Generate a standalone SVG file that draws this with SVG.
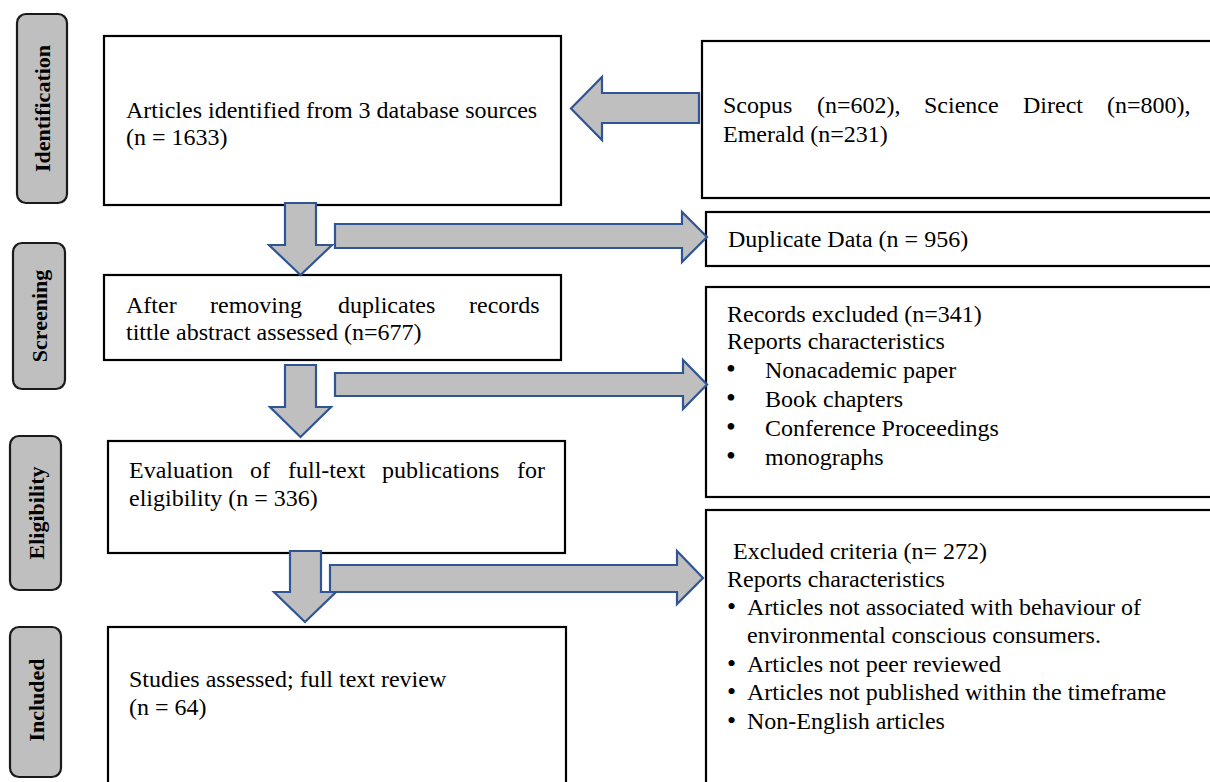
<svg xmlns="http://www.w3.org/2000/svg" width="1210" height="782" viewBox="0 0 1210 782">
<style>
.stage{fill:#bfbfbf;stroke:#1a1a1a;stroke-width:2.2}
.stxt{font-family:'Liberation Serif','Times New Roman',serif;font-weight:bold;font-size:22px;fill:#000;text-anchor:middle}
.box{fill:#fff;stroke:#000;stroke-width:2.2}
.t{font-family:'Liberation Serif','Times New Roman',serif;font-size:24px;fill:#000}
.b1{font-size:28px}
.b2{font-size:26px}
.arr{fill:#bfbfbf;stroke:#2f5597;stroke-width:2.2;stroke-linejoin:miter}
</style>
<rect width="1210" height="782" fill="#fff"/>

<g id="stage-identification">
<rect class="stage" x="17" y="14" width="50" height="189" rx="9"/>
<text class="stxt" transform="translate(49.5,108.5) rotate(-90)">Identification</text>
</g>
<g id="stage-screening">
<rect class="stage" x="13" y="243" width="52" height="146" rx="9"/>
<text class="stxt" transform="translate(46.5,316) rotate(-90)">Screening</text>
</g>
<g id="stage-eligibility">
<rect class="stage" x="10" y="436" width="51" height="154" rx="9"/>
<text class="stxt" transform="translate(43.5,513) rotate(-90)">Eligibility</text>
</g>
<g id="stage-included">
<rect class="stage" x="10" y="627" width="51" height="150" rx="9"/>
<text class="stxt" transform="translate(43.5,700) rotate(-90)">Included</text>
</g>

<g id="box-identified">
<rect class="box" x="104" y="36" width="457" height="169"/>
<text class="t" x="126" y="118">Articles identified from 3 database sources</text>
<text class="t" x="126" y="145">(n = 1633)</text>
</g>
<g id="box-sources">
<rect class="box" x="702" y="41" width="520" height="157"/>
<text class="t" y="113"><tspan x="723">Scopus</tspan><tspan x="817">(n=602),</tspan><tspan x="924">Science</tspan><tspan x="1023">Direct</tspan><tspan x="1107">(n=800),</tspan></text>
<text class="t" x="723" y="142">Emerald (n=231)</text>
</g>
<g id="box-duplicate">
<rect class="box" x="706" y="212" width="516" height="54"/>
<text class="t" x="728" y="247">Duplicate Data (n = 956)</text>
</g>
<g id="box-screened">
<rect class="box" x="104" y="275" width="457" height="85"/>
<text class="t" y="313"><tspan x="126">After</tspan><tspan x="210">removing</tspan><tspan x="338">duplicates</tspan><tspan x="469">records</tspan></text>
<text class="t" x="126" y="340">tittle abstract assessed (n=677)</text>
</g>
<g id="box-records-excluded">
<rect class="box" x="706" y="287" width="516" height="210"/>
<text class="t" x="727" y="322">Records excluded (n=341)</text>
<text class="t" x="727" y="349">Reports characteristics</text>
<text class="t" y="378"><tspan class="b1" x="726">•</tspan><tspan x="765">Nonacademic paper</tspan></text>
<text class="t" y="407"><tspan class="b1" x="726">•</tspan><tspan x="765">Book chapters</tspan></text>
<text class="t" y="436"><tspan class="b1" x="726">•</tspan><tspan x="765">Conference Proceedings</tspan></text>
<text class="t" y="465"><tspan class="b1" x="726">•</tspan><tspan x="765">monographs</tspan></text>
</g>
<g id="box-eligibility">
<rect class="box" x="108" y="441" width="457" height="112"/>
<text class="t" y="478"><tspan x="129">Evaluation</tspan><tspan x="250">of</tspan><tspan x="288">full-text</tspan><tspan x="382">publications</tspan><tspan x="517">for</tspan></text>
<text class="t" x="129" y="506">eligibility (n = 336)</text>
</g>
<g id="box-excluded-criteria">
<rect class="box" x="706" y="510" width="516" height="290"/>
<text class="t" x="733" y="559">Excluded criteria (n= 272)</text>
<text class="t" x="727" y="587">Reports characteristics</text>
<text class="t" y="615"><tspan class="b2" x="727">•</tspan><tspan x="747">Articles not associated with behaviour of</tspan></text>
<text class="t" x="747" y="643">environmental conscious consumers.</text>
<text class="t" y="672"><tspan class="b2" x="727">•</tspan><tspan x="747">Articles not peer reviewed</tspan></text>
<text class="t" y="700"><tspan class="b2" x="727">•</tspan><tspan x="747">Articles not published within the timeframe</tspan></text>
<text class="t" y="729"><tspan class="b2" x="727">•</tspan><tspan x="747">Non-English articles</tspan></text>
</g>
<g id="box-included">
<rect class="box" x="108" y="627" width="458" height="180"/>
<text class="t" x="129" y="687">Studies assessed; full text review</text>
<text class="t" x="129" y="715">(n = 64)</text>
</g>

<g id="connectors">
<polygon class="arr" points="699,93 602,93 602,77 571,108.5 602,140 602,123 699,123"/>
<polygon class="arr" points="285,203 316,203 316,245 332,245 300.5,275 269,245 285,245"/>
<polygon class="arr" points="335,224 682,224 682,212 707,237 682,262 682,248 335,248"/>
<polygon class="arr" points="285,365 316,365 316,407 331,407 300.5,437 270,407 285,407"/>
<polygon class="arr" points="335,373 683,373 683,360 707,384.5 683,409 683,396 335,396"/>
<polygon class="arr" points="290,551 321,551 321,592 336,592 305,622 274,592 290,592"/>
<polygon class="arr" points="330,565 677,565 677,551 703,578 677,604 677,592 330,592"/>
</g>
</svg>
